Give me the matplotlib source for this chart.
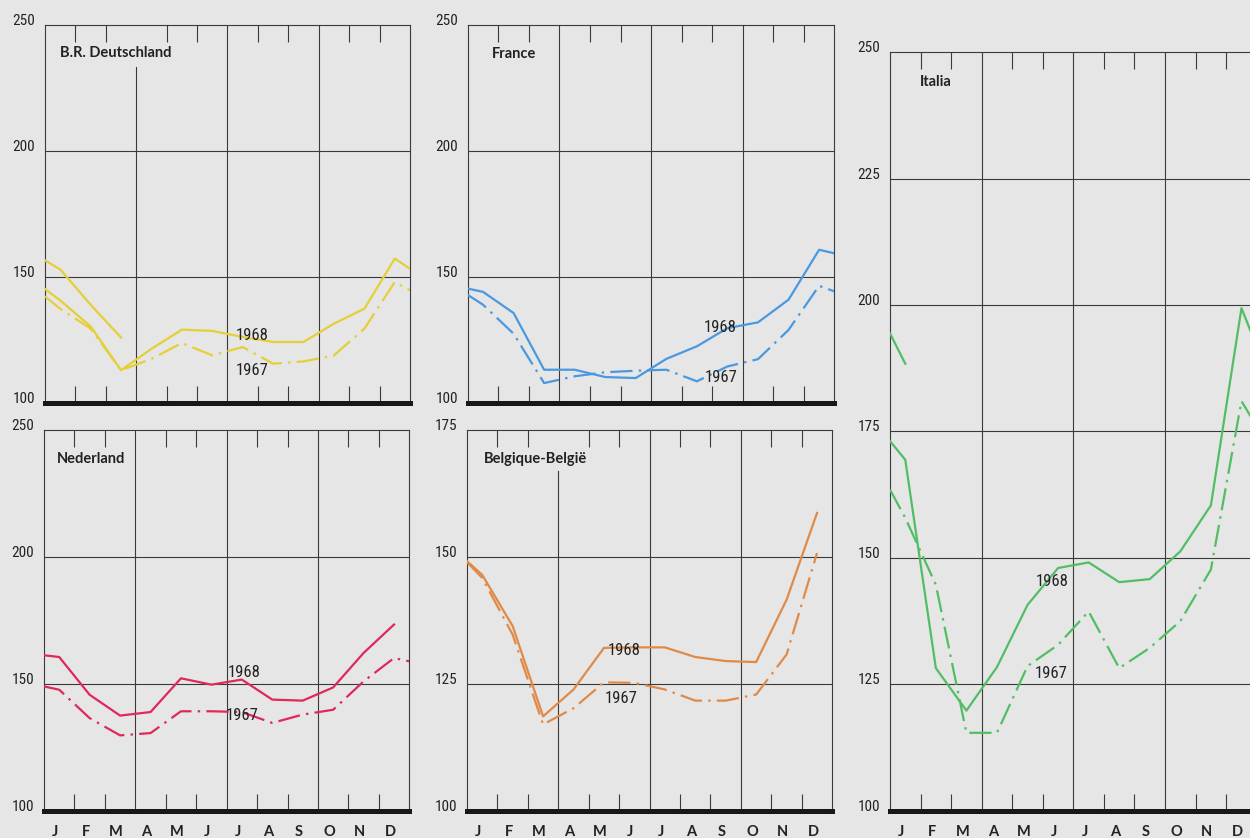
import numpy as np
import matplotlib.pyplot as plt
from matplotlib import font_manager

# x positions: start of year, middle of each month, end of year
pos = np.array([0] + [m + 0.5 for m in range(12)] + [12])
meses = ['J', 'F', 'M', 'A', 'M', 'J', 'J', 'A', 'S', 'O', 'N', 'D']
nan = np.nan

# values (start, J..D, end)
de_1969 = [156.6, 153.0, 139.0, 126.0] + [nan] * 10
de_1968 = [145.2, 140.7, 130.4, 113.0, 121.5, 129.1, 128.6, 126.2, 124.2, 124.2, 131.5, 137.4, 157.3, 153.3]
de_1967 = [142.3, 137.4, 129.5, 113.0, 117.5, 123.8, 118.9, 122.2, 115.6, 116.5, 118.9, 129.5, 148.0, 144.7]

fr_1968 = [145.4, 144.1, 135.7, 113.2, 113.2, 110.3, 109.9, 117.5, 122.5, 129.7, 132.0, 141.0, 160.8, 159.4]
fr_1967 = [142.9, 139.0, 127.5, 107.9, 110.6, 112.2, 112.8, 113.2, 108.6, 114.5, 117.4, 129.0, 146.5, 144.3]

nl_1968 = [161.3, 160.6, 145.7, 137.5, 138.9, 152.2, 149.7, 151.7, 143.8, 143.4, 148.6, 162.2, 173.4, nan]
nl_1967 = [149.0, 147.7, 136.5, 129.7, 130.6, 139.2, 139.2, 138.9, 134.6, 137.9, 139.8, 151.0, 160.2, 158.9]

be_1968 = [149.2, 146.5, 136.4, 118.6, 123.9, 132.1, 132.2, 132.2, 130.3, 129.5, 129.3, 141.6, 158.7, nan]
be_1967 = [149.0, 145.9, 134.7, 117.0, 120.2, 125.3, 125.2, 123.9, 121.7, 121.7, 122.9, 130.8, 150.8, nan]

it_1969 = [194.4, 188.4] + [nan] * 12
it_1968 = [173.1, 169.4, 128.2, 119.8, 128.4, 140.7, 148.0, 149.1, 145.2, 145.8, 151.3, 160.4, 199.4, 191.8]
it_1967 = [163.5, 157.9, 144.7, 115.4, 115.4, 128.6, 132.8, 139.4, 128.2, 132.2, 137.5, 147.7, 181.0, 176.0]

bg = '#e6e6e6'
grid = '#3a3a3a'
txt = '#222222'

# condensed font for the numbers if there is one, else a plain sans at a smaller size
instaladas = {f.name for f in font_manager.fontManager.ttflist}
narrow = None
for nome in ['Liberation Sans Narrow', 'Roboto Condensed', 'DejaVu Sans Condensed', 'Open Sans Condensed']:
    if nome in instaladas:
        narrow = nome
        break
if narrow:
    num_size, lab_size = 11, 12
else:
    narrow = 'Liberation Sans'
    num_size, lab_size = 10, 10.5

fig = plt.figure(figsize=(12.5, 8.38), dpi=100)
fig.patch.set_facecolor(bg)


def painel(rect, ymax, ystep, series, cor, titulo, tpos, lab68, lab67, com_meses, corte=1.0):
    ax = fig.add_axes(rect)
    ax.set_facecolor(bg)
    ax.set_xlim(0, 12)
    ax.set_ylim(100, ymax)

    # grid
    for v in np.arange(100 + ystep, ymax, ystep):
        ax.axhline(v, color=grid, lw=0.8, zorder=1)
    for q in (3, 6, 9):
        ax.axvline(q, ymax=corte if q == 3 else 1.0, color=grid, lw=0.8, zorder=1)

    # curves
    for vals, solida in series:
        if solida:
            ax.plot(pos, vals, color=cor, lw=1.6, zorder=3)
        else:
            ax.plot(pos, vals, color=cor, lw=1.6, dashes=(10, 2.8, 1.1, 2.8), zorder=3)

    for s in ax.spines.values():
        s.set_color(grid)
        s.set_linewidth(0.8)
    ax.spines['bottom'].set_color('#181818')
    ax.spines['bottom'].set_linewidth(3.6)

    # month boundary ticks, top and bottom
    ax.set_xticks([1, 2, 4, 5, 7, 8, 10, 11])
    ax.tick_params(axis='x', which='major', direction='in', top=True, bottom=True,
                   length=12, width=0.8, color=grid, labelbottom=False)
    if com_meses:
        ax.set_xticks(np.arange(12) + 0.37, labels=meses, minor=True)
        ax.tick_params(axis='x', which='minor', length=0, pad=10, labelsize=10.5, labelcolor=txt)
        for l in ax.get_xticklabels(minor=True):
            l.set_fontfamily('Lato')
            l.set_fontweight('bold')

    yt = np.arange(100, ymax + 1, ystep)
    ax.set_yticks(yt, labels=[str(int(v)) for v in yt])
    ax.tick_params(axis='y', length=0, pad=7, labelsize=num_size, labelcolor=txt)
    for l in ax.get_yticklabels():
        l.set_va('baseline')
        l.set_fontfamily(narrow)

    ax.text(tpos[0], tpos[1], titulo, transform=ax.transAxes, ha='left', va='center',
            fontfamily='Lato', fontweight='bold', fontsize=10.5, color=txt)
    ax.text(lab68[0], lab68[1], '1968', ha='center', va='center', family=narrow, fontsize=lab_size, color=txt, zorder=4)
    ax.text(lab67[0], lab67[1], '1967', ha='center', va='center', family=narrow, fontsize=lab_size, color=txt, zorder=4)
    return ax


painel([0.036, 0.5191, 0.292, 0.4511], 250, 50,
       [(de_1969, True), (de_1968, True), (de_1967, False)], '#e5cf36',
       'B.R. Deutschland', (0.041, 0.926), (6.82, 126.6), (6.8, 112.7), False, corte=0.89)
painel([0.3742, 0.5191, 0.2933, 0.4511], 250, 50,
       [(fr_1968, True), (fr_1967, False)], '#4a98e0',
       'France', (0.065, 0.924), (8.26, 130.0), (8.3, 110.2), False)
painel([0.0352, 0.0326, 0.2922, 0.4539], 250, 50,
       [(nl_1968, True), (nl_1967, False)], '#e0285a',
       'Nederland', (0.035, 0.9245), (6.57, 154.5), (6.52, 137.7), True)
painel([0.3736, 0.0326, 0.2922, 0.4539], 175, 25,
       [(be_1968, True), (be_1967, False)], '#e08a48',
       'Belgique-België', (0.0465, 0.9245), (5.16, 131.5), (5.08, 122.2), True, corte=0.893)
painel([0.712, 0.0326, 0.2934, 0.905], 250, 25,
       [(it_1969, True), (it_1968, True), (it_1967, False)], '#52be64',
       'Italia', (0.082, 0.961), (5.3, 145.4), (5.26, 127.2), True)

fig.savefig('out.png', dpi=100, facecolor=bg)
